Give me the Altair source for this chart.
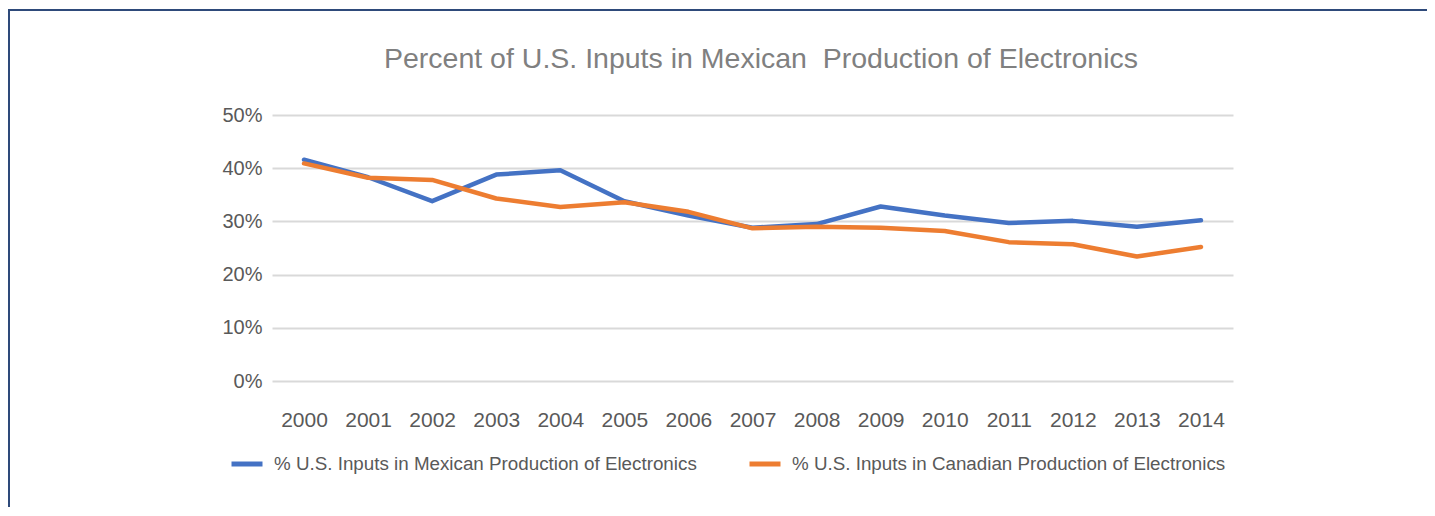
import altair as alt
import pandas as pd

years = [str(y) for y in range(2000, 2015)]
mexican = [41.6, 38.3, 33.8, 38.8, 39.6, 33.8, 31.1, 28.8, 29.5, 32.8, 31.1, 29.7, 30.1, 29.0, 30.2]
canadian = [40.9, 38.2, 37.8, 34.3, 32.7, 33.6, 31.8, 28.7, 29.0, 28.8, 28.2, 26.1, 25.7, 23.4, 25.2]
series_names = [
    "% U.S. Inputs in Mexican Production of Electronics",
    "% U.S. Inputs in Canadian Production of Electronics",
]
colors = ["#4472C4", "#ED7D31"]
title_text = "Percent of U.S. Inputs in Mexican\u00a0 Production of Electronics"

rows = []
for y, v in zip(years, mexican):
    rows.append({"year": y, "value": v, "series": series_names[0]})
for y, v in zip(years, canadian):
    rows.append({"year": y, "value": v, "series": series_names[1]})
df = pd.DataFrame(rows)

FONT = "Liberation Sans"

lines = alt.Chart(df).mark_line(strokeWidth=4.5, strokeCap="round", strokeJoin="round").encode(
    x=alt.X("year:O", scale=alt.Scale(type="point", padding=0.5),
            axis=alt.Axis(title=None, labelAngle=0, domain=False, ticks=False, grid=False,
                          labelFontSize=21, labelColor="#595959", labelFont=FONT, labelPadding=28)),
    y=alt.Y("value:Q", scale=alt.Scale(domain=[0, 50]),
            axis=alt.Axis(title=None, values=[0, 10, 20, 30, 40, 50], labelExpr="datum.value + '%'",
                          domain=False, ticks=False, grid=True, gridColor="#D9D9D9", gridWidth=2,
                          labelFontSize=20, labelColor="#595959", labelFont=FONT, labelPadding=10)),
    color=alt.Color("series:N", sort=series_names,
                    scale=alt.Scale(domain=series_names, range=colors),
                    legend=alt.Legend(title=None, orient="none", direction="horizontal",
                                      legendX=-43, legendY=331, symbolType="stroke",
                                      symbolSize=961, symbolStrokeWidth=5, labelFontSize=18.8,
                                      labelColor="#595959", labelFont=FONT, labelOffset=9,
                                      columnPadding=42, labelLimit=700)),
)

frame_df = pd.DataFrame({"k": [0]})
frame_color = "#2E4A7A"
top_rule = alt.Chart(frame_df).mark_rule(color=frame_color, strokeWidth=2).encode(
    x=alt.value(-264), x2=alt.value(1160), y=alt.value(-105)
)
left_rule = alt.Chart(frame_df).mark_rule(color=frame_color, strokeWidth=2).encode(
    x=alt.value(-263), y=alt.value(-106), y2=alt.value(420)
)
title = alt.Chart(frame_df).mark_text(
    text=title_text, fontSize=28.5, color="#808080", font=FONT, align="center", baseline="alphabetic"
).encode(x=alt.value(489), y=alt.value(-47))

chart = alt.layer(lines, top_rule, left_rule, title).properties(
    width=961, height=266,
    autosize=alt.AutoSizeParams(type="none"),
    padding={"left": 264, "top": 107, "right": 194, "bottom": 126},
).configure_view(stroke=None)

chart.save("out.html", embed_options={"renderer": "svg", "actions": False})
